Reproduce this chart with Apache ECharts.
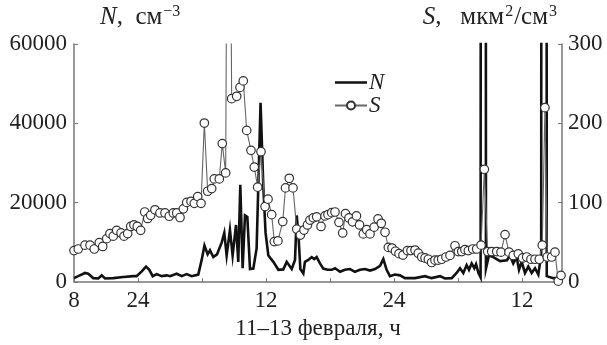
<!DOCTYPE html>
<html>
<head>
<meta charset="utf-8">
<script src="https://cdn.jsdelivr.net/npm/echarts@6/dist/echarts.min.js"></script>
<style>
  html, body { margin: 0; padding: 0; background: #fff; }
  #chart { width: 607px; height: 345px; }
</style>
</head>
<body>
<div id="chart"></div>
<script>
// время, ч от начала оси (метка "8"), шаг делений 6 ч
const xTickLabels = { 0: '8', 6: '24', 18: '12', 30: '24', 42: '12' };

// N, см^-3
const nHours = [0, 0.40, 1.03, 1.34, 1.81, 2.28, 2.60, 2.91, 3.68, 4.62, 5.56, 5.87, 6.35, 6.75, 7.06, 7.38,
  7.75, 8.22, 8.69, 9.00, 9.62, 10.10, 10.56, 11.03, 11.65, 11.97, 12.23, 12.53, 12.75, 13.06, 13.41,
  13.85, 14.09, 14.31, 14.62, 14.87, 15.19, 15.40, 15.59, 15.81, 16.03, 16.25, 16.50, 16.81, 17.12,
  17.49, 17.75, 17.96, 18.22, 18.69, 19.16, 19.62, 19.94, 20.09, 20.41, 20.72, 20.88, 21.05, 21.22,
  21.50, 21.65, 21.97, 22.28, 22.53, 22.75, 23.06, 23.37, 23.78, 24.16, 24.47, 24.94, 25.40, 25.87,
  26.34, 26.81, 27.28, 27.75, 28.22, 28.69, 29.00, 29.31, 29.62, 30.09, 30.56, 31.03, 31.97, 32.91,
  33.53, 34.31, 34.78, 35.41, 35.87, 36.19, 36.50, 36.81, 37.03, 37.28, 37.53, 37.69, 37.92, 38.12,
  38.37, 38.62, 38.90, 39.31, 39.94, 40.59, 40.87, 41.18, 41.50, 41.72, 41.97, 42.28, 42.59, 42.91,
  43.22, 43.53, 43.80, 44.06, 44.32, 44.93, 45.37, 45.75];
const nValues = [1000, 1500, 2300, 2100, 1000, 900, 1700, 900, 1000, 1300, 1500, 1500, 2700, 3900, 3100, 1500,
  2000, 1500, 1700, 1500, 2100, 1500, 2000, 1500, 1900, 5600, 9200, 7000, 8000, 6300, 7000,
  10000, 12400, 6700, 13200, 6700, 14400, 5100, 24500, 3500, 16800, 16400, 3300, 3400, 8500,
  45200, 24000, 12400, 6700, 5100, 3100, 3200, 5100, 5500, 3300, 5600, 16800, 11600, 3300,
  2200, 5100, 5600, 6300, 5800, 6300, 4700, 3400, 3100, 3100, 3500, 2600, 3100, 3300,
  2600, 3100, 3300, 2900, 3300, 4100, 5800, 3100, 1500, 1900, 1700, 1000, 1000, 1500,
  1000, 1500, 900, 1000, 2300, 3500, 2300, 4300, 3100, 4700, 3500, 4500, 2300, 1200,
  2000000, 3400, 6700, 6300, 5300, 5500, 6700, 4700, 6300, 3100, 5100, 2300, 3900, 2300,
  3500, 1900, 7000, 2000000, 1500, 1000, 1000, 1000];

// S, мкм^2/см^3
const sHours = [0, 0.40, 1.03, 1.50, 1.90, 2.37, 2.69, 3.07, 3.37, 3.68, 4.00, 4.41, 4.69, 5.03, 5.32, 5.62,
  5.93, 6.25, 6.63, 6.91, 7.19, 7.59, 8.06, 8.53, 8.93, 9.31, 9.63, 9.94, 10.25, 10.57, 10.97, 11.28,
  11.60, 11.91, 12.22, 12.53, 12.91, 13.15, 13.62, 13.90, 14.22, 14.48, 14.78, 15.25, 15.56, 15.87,
  16.19, 16.59, 16.90, 17.22, 17.53, 17.91, 18.19, 18.53, 18.78, 19.12, 19.57, 19.83, 20.18, 20.53,
  20.88, 21.22, 21.56, 21.89, 22.12, 22.43, 22.75, 23.16, 23.53, 23.81, 24.16, 24.47, 24.84, 25.19,
  25.45, 25.78, 26.11, 26.48, 26.77, 27.12, 27.44, 27.75, 28.14, 28.50, 28.81, 29.16, 29.47, 29.81,
  30.14, 30.47, 30.84, 31.25, 31.59, 31.97, 32.28, 32.60, 32.91, 33.22, 33.53, 33.84, 34.15, 34.47,
  34.87, 35.25, 35.72, 36.03, 36.35, 36.65, 36.97, 37.38, 37.75, 38.16, 38.47, 38.78, 39.16, 39.63,
  40.03, 40.41, 40.78, 41.18, 41.65, 42.06, 42.44, 42.84, 43.22, 43.62, 43.90, 44.15, 44.37, 44.78,
  45.09, 45.40, 45.66];
const sValues = [39.7, 41.7, 46.5, 46.5, 41.7, 49.8, 44.9, 54.7, 61.1, 57.9, 65.2, 61.9, 57.9, 61.1, 70.1, 72.0,
  70.1, 65.2, 88.3, 80.2, 84.2, 91.1, 87.1, 87.1, 83.0, 87.1, 87.1, 81.4, 92.3, 100.4, 101.7, 99.2,
  107.7, 99.2, 200.4, 114.5, 117.8, 130.0, 130.0, 174.5, 137.6, 900, 231.1, 234.1, 245.3, 253.5,
  191.1, 166.0, 144.9, 119.6, 164.3, 95.1, 104.5, 85.0, 51.0, 51.9, 76.2, 118.7, 130.8, 118.7,
  66.8, 59.2, 65.6, 72.0, 78.1, 81.0, 82.2, 70.1, 83.4, 85.0, 87.5, 88.3, 75.3, 61.9,
  86.2, 80.8, 75.9, 83.4, 72.0, 60.7, 66.0, 60.7, 69.2, 79.6, 74.1, 62.8, 43.7, 42.9,
  38.9, 35.8, 34.0, 39.7, 39.7, 40.4, 36.4, 31.6, 30.4, 28.8, 24.7, 27.6, 27.6, 28.8,
  31.6, 33.6, 45.8, 38.5, 38.5, 40.9, 39.7, 41.7, 41.7, 46.5, 142.1, 38.5, 38.5, 38.5,
  37.7, 59.9, 37.7, 33.6, 35.6, 30.4, 31.6, 28.8, 28.8, 28.8, 46.5, 219.8, 31.6, 31.6,
  37.7, 1.2, 8.5];

const FONT = '"Liberation Serif", serif';
const AXIS_GRAY = '#777';
const TEXT = '#222';

const zip = (xs, ys) => xs.map((x, i) => [x, ys[i]]);

// значок легенды для N: только толстая линия (крошечные точки по углам держат размер рамки)
const lineIcon = 'path://M0,0h0.05v0.05h-0.05z M0,3.7h32v2.6h-32z M31.95,9.95h0.05v0.05h-0.05z';

const titleRich = {
  i: { fontFamily: FONT, fontStyle: 'italic', fontSize: 25, color: TEXT },
  t: { fontFamily: FONT, fontSize: 25, color: TEXT },
  s: { fontFamily: FONT, fontSize: 16, color: TEXT, verticalAlign: 'top', padding: [0, 1, 10, 1] }
};

const chart = echarts.init(document.getElementById('chart'));
chart.setOption({
  animation: false,
  textStyle: { fontFamily: FONT },
  grid: { left: 74, right: 45, top: 44, bottom: 54 },
  legend: {
    data: [{ name: 'N', icon: lineIcon }, 'S'],
    orient: 'vertical',
    left: 334,
    top: 71,
    padding: 0,
    itemGap: 0,
    itemWidth: 32,
    itemHeight: 10,
    textStyle: { fontFamily: FONT, fontStyle: 'italic', fontSize: 23, color: TEXT, padding: [0, 0, 0, -3] }
  },
  xAxis: {
    type: 'value',
    min: 0,
    max: 45.75,
    interval: 6,
    name: '11–13 февраля, ч',
    nameLocation: 'middle',
    nameGap: 31,
    nameTextStyle: { fontFamily: FONT, fontSize: 23, color: TEXT },
    axisLine: { lineStyle: { color: AXIS_GRAY, width: 1.5 } },
    axisTick: { inside: true, length: 4, lineStyle: { color: AXIS_GRAY } },
    axisLabel: {
      margin: 7,
      fontFamily: FONT, fontSize: 23, color: TEXT,
      showMaxLabel: false,
      formatter: v => xTickLabels[v] || ''
    },
    splitLine: { show: false }
  },
  yAxis: [
    {
      type: 'value',
      min: 0, max: 60000, interval: 20000,
      name: '{i|N}{t|,  см}{s|−3}',
      nameLocation: 'end',
      nameGap: 14,
      nameTextStyle: { align: 'left', padding: [0, 0, 0, 26], color: TEXT, fontSize: 25, rich: titleRich },
      axisLine: { show: true, lineStyle: { color: AXIS_GRAY, width: 1.5 } },
      axisTick: { show: true, inside: true, length: 4, lineStyle: { color: AXIS_GRAY } },
      axisLabel: { margin: 7, fontFamily: FONT, fontSize: 23, color: TEXT, formatter: v => String(v) },
      splitLine: { show: false }
    },
    {
      type: 'value',
      min: 0, max: 300, interval: 100,
      position: 'right',
      name: '{i|S}{t|,   мкм}{s|2}{t|/см}{s|3}',
      nameLocation: 'end',
      nameGap: 14,
      nameTextStyle: { align: 'right', padding: [0, 4, 0, 0], color: TEXT, fontSize: 25, rich: titleRich },
      axisLine: { show: true, lineStyle: { color: AXIS_GRAY, width: 1.5 } },
      axisTick: { show: true, inside: true, length: 4, lineStyle: { color: AXIS_GRAY } },
      axisLabel: { margin: 6, fontFamily: FONT, fontSize: 23, color: TEXT, formatter: v => String(v) },
      splitLine: { show: false }
    }
  ],
  series: [
    {
      name: 'N',
      type: 'line',
      yAxisIndex: 0,
      data: zip(nHours, nValues),
      symbol: 'none',
      clip: true,
      lineStyle: { color: '#111', width: 2.6, join: 'miter' },
      itemStyle: { color: '#111' }
    },
    {
      name: 'S',
      type: 'line',
      yAxisIndex: 1,
      data: zip(sHours, sValues),
      symbol: 'circle',
      symbolSize: 8.5,
      showAllSymbol: true,
      clip: true,
      lineStyle: { color: '#666', width: 1.1 },
      itemStyle: { color: '#fff', borderColor: '#333', borderWidth: 1.2 }
    }
  ]
});
</script>
</body>
</html>
